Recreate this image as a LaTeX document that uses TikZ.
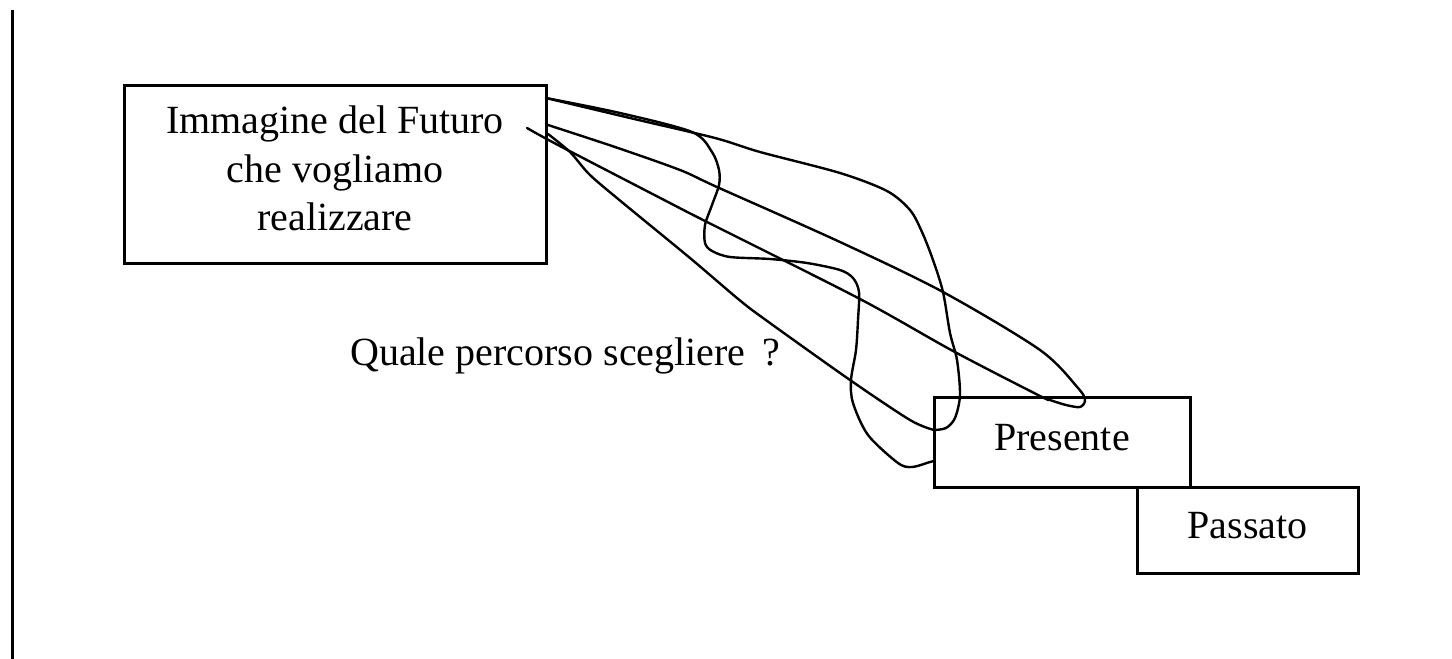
\documentclass[tikz,border=0pt]{standalone}
\usepackage{fontspec}
\setmainfont{Liberation Serif}
\begin{document}
\begin{tikzpicture}[x=1pt,y=-1pt,
  box/.style={draw, line width=3pt, inner sep=0pt},
  lbl/.style={inner sep=0pt, font=\fontsize{40}{48.5}\selectfont},
  route/.style={line width=2.4pt, line join=round, line cap=round}]
\useasboundingbox (0,0) rectangle (1452,659);

% margin rule on the left
\coordinate (vtop) at (12,10);
\coordinate (vbot) at (12,659);
\draw[line width=3pt] (vtop) -- (vbot);

% boxes
\node[box, minimum width=422pt, minimum height=178pt] (futuro) at (335,174) {};
\node[lbl, align=center, anchor=north] (futurotxt) at (335,106)
  {Immagine del Futuro\\che vogliamo\\realizzare};
\node[box, minimum width=256pt, minimum height=90pt] (presente) at (1062,442) {};
\node[lbl, anchor=base] (presentetxt) at (1062,450) {Presente};
\node[box, minimum width=221pt, minimum height=86pt] (passato) at (1247.5,530) {};
\node[lbl, anchor=base] (passatotxt) at (1247.5,538) {Passato};

\node[lbl, anchor=base west] (domanda) at (350,365)
  {Quale percorso scegliere\hspace{17pt}?};

% end points of the routes
\coordinate (f1) at (546,98);
\coordinate (f2) at (548,125);
\coordinate (f3) at (527,128);
\coordinate (f4) at (548,134);
\coordinate (p1) at (934,430);
\coordinate (p2) at (934,461);

% wide loop on the right
\draw[route] plot[smooth, tension=0.5] coordinates {
  (f1) (630,118) (715,138) (760,152) (840,173) (887,191) (910,210)
  (922,232) (933,260) (943,292) (950,333) (957,360) (960,395)
  (955,418) (946,428) (p1)};

% steep route
\draw[route] plot[smooth, tension=0.5] coordinates {
  (f4) (570,152) (590,175) (623,203) (690,258) (737,298) (763,318)
  (850,380) (910,420) (p1)};

% winding route
\draw[route] plot[smooth, tension=0.5] coordinates {
  (f1) (620,113) (692,132) (712,152) (719,170) (719,185) (712,205)
  (705,225) (705,243) (712,251) (730,257) (770,259) (807,263)
  (840,270) (853,278) (859,292) (858,320) (856,350) (851,380)
  (853,403) (868,435) (898,463) (912,467) (930,462) (p2)};

% route that hooks on the top of the present and comes back
\draw[route] plot[smooth, tension=0.5] coordinates {
  (f2) (615,147) (680,170) (717,187) (840,242) (943,292) (1040,350)
  (1078,388) (1085,400) (1080,407) (1066,405) (1050,400)
  (1040,396) (953,351) (860,299) (707,222) (668,202) (558,145) (f3)};
\end{tikzpicture}
\end{document}
